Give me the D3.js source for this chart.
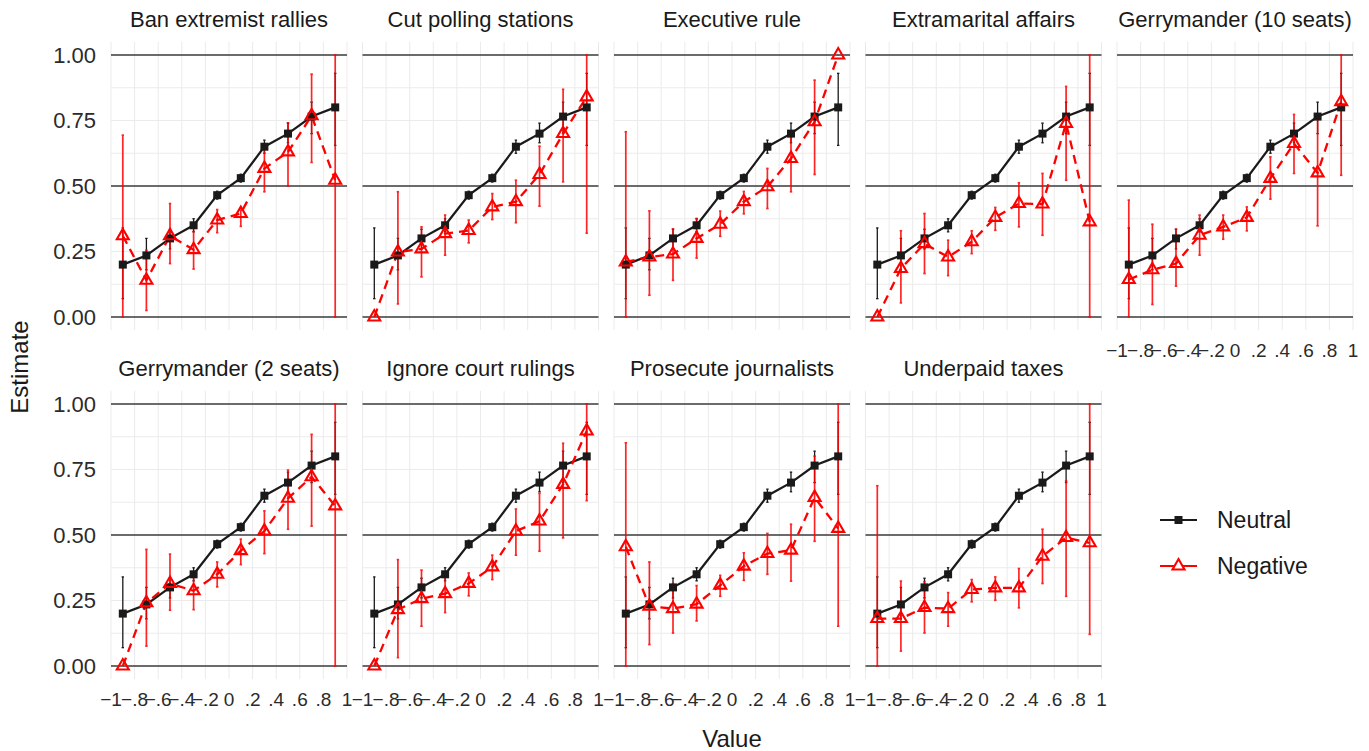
<!DOCTYPE html>
<html>
<head>
<meta charset="utf-8">
<script src="https://cdn.jsdelivr.net/npm/d3@7"></script>
<style>
  html, body { margin: 0; padding: 0; background: #ffffff; }
  svg text { font-family: "Liberation Sans", Arial, Helvetica, sans-serif; }
</style>
</head>
<body>
<svg id="chart" width="1369" height="751"></svg>
<script>
// ---------------- DATA ----------------
const facets = [
  "Ban extremist rallies", "Cut polling stations", "Executive rule",
  "Extramarital affairs", "Gerrymander (10 seats)", "Gerrymander (2 seats)",
  "Ignore court rulings", "Prosecute journalists", "Underpaid taxes"
];
const xValues = [-0.9, -0.7, -0.5, -0.3, -0.1, 0.1, 0.3, 0.5, 0.7, 0.9];
const xTicks = [-1, -0.8, -0.6, -0.4, -0.2, 0, 0.2, 0.4, 0.6, 0.8, 1];
const xTickLabels = ["\u22121", "\u2212.8", "\u2212.6", "\u2212.4", "\u2212.2", "0", ".2", ".4", ".6", ".8", "1"];
const yTicks = [0, 0.25, 0.5, 0.75, 1];
const yTickLabels = ["0.00", "0.25", "0.50", "0.75", "1.00"];
const yMinor = [0.125, 0.375, 0.625, 0.875];
const yRefLines = [0, 0.5, 1];
const seriesNames = ["Neutral", "Negative"];

// Neutral series (identical in every facet)
const neutralEst = [0.20, 0.235, 0.30, 0.35, 0.465, 0.53, 0.65, 0.70, 0.765, 0.80];
const neutralLo  = [0.07, 0.18, 0.26, 0.325, 0.45, 0.515, 0.625, 0.665, 0.70, 0.655];
const neutralHi  = [0.34, 0.30, 0.335, 0.375, 0.48, 0.545, 0.675, 0.74, 0.82, 0.93];

// Negative series, one row per facet (same order as facets)
const negativeEst = [
  [0.31, 0.14, 0.31, 0.257, 0.37, 0.395, 0.567, 0.63, 0.768, 0.522],
  [0.00, 0.248, 0.26, 0.318, 0.33, 0.42, 0.44, 0.544, 0.70, 0.84],
  [0.21, 0.229, 0.24, 0.30, 0.354, 0.44, 0.497, 0.605, 0.745, 1.00],
  [0.00, 0.185, 0.28, 0.229, 0.287, 0.38, 0.433, 0.431, 0.739, 0.363],
  [0.143, 0.18, 0.204, 0.312, 0.344, 0.38, 0.529, 0.662, 0.55, 0.822],
  [0.00, 0.241, 0.315, 0.287, 0.35, 0.44, 0.515, 0.64, 0.722, 0.611],
  [0.00, 0.215, 0.257, 0.276, 0.315, 0.378, 0.515, 0.553, 0.693, 0.897],
  [0.455, 0.228, 0.219, 0.236, 0.308, 0.381, 0.429, 0.442, 0.643, 0.525],
  [0.181, 0.181, 0.223, 0.219, 0.292, 0.298, 0.298, 0.419, 0.49, 0.47]
];
const negativeLo = [
  [0.00, 0.025, 0.204, 0.183, 0.322, 0.346, 0.478, 0.50, 0.59, 0.00],
  [0.00, 0.05, 0.153, 0.236, 0.283, 0.372, 0.36, 0.423, 0.516, 0.32],
  [0.00, 0.083, 0.14, 0.225, 0.308, 0.394, 0.414, 0.478, 0.544, 1.00],
  [0.00, 0.054, 0.166, 0.158, 0.242, 0.331, 0.344, 0.312, 0.522, 0.00],
  [0.00, 0.048, 0.118, 0.236, 0.297, 0.329, 0.45, 0.548, 0.348, 0.541],
  [0.00, 0.076, 0.213, 0.215, 0.302, 0.387, 0.429, 0.522, 0.534, 0.00],
  [0.00, 0.032, 0.152, 0.204, 0.268, 0.33, 0.423, 0.438, 0.489, 0.631],
  [0.00, 0.082, 0.126, 0.172, 0.266, 0.327, 0.35, 0.324, 0.476, 0.152],
  [0.00, 0.057, 0.126, 0.152, 0.245, 0.251, 0.222, 0.315, 0.266, 0.121]
];
const negativeHi = [
  [0.694, 0.255, 0.433, 0.327, 0.41, 0.408, 0.65, 0.741, 0.927, 1.00],
  [0.00, 0.478, 0.344, 0.389, 0.37, 0.471, 0.522, 0.652, 0.869, 1.00],
  [0.707, 0.405, 0.336, 0.376, 0.404, 0.479, 0.567, 0.685, 0.904, 1.00],
  [0.00, 0.329, 0.395, 0.293, 0.329, 0.418, 0.512, 0.548, 0.88, 1.00],
  [0.446, 0.354, 0.335, 0.389, 0.389, 0.42, 0.611, 0.773, 0.771, 1.00],
  [0.00, 0.445, 0.427, 0.35, 0.397, 0.484, 0.592, 0.748, 0.884, 1.00],
  [0.00, 0.406, 0.366, 0.35, 0.355, 0.423, 0.599, 0.659, 0.85, 1.00],
  [0.852, 0.397, 0.315, 0.307, 0.346, 0.432, 0.506, 0.541, 0.801, 1.00],
  [0.688, 0.324, 0.322, 0.28, 0.33, 0.34, 0.372, 0.522, 0.706, 1.00]
];

// ---------------- LAYOUT ----------------
const svg = d3.select("#chart");
const panelW = 236;
const panelLefts = [111, 362.5, 614, 865.5, 1117];
const rowTops = [41.9, 390.9];
const panelH = 288.2;
const neutralColor = "#1a1a1a";
const negColor = "#ff0000";
const fontMain = 22;
const triSize = 62;

facets.forEach((name, fi) => {
  const row = Math.floor(fi / 5), col = fi % 5;
  const left = panelLefts[col], top = rowTops[row];
  const x = d3.scaleLinear().domain([-1, 1]).range([left, left + panelW]);
  const y = d3.scaleLinear().domain([-0.05, 1.05]).range([top + panelH, top]);
  const g = svg.append("g");

  // grid
  g.selectAll(".vg").data(xTicks).join("line")
    .attr("x1", d => x(d)).attr("x2", d => x(d))
    .attr("y1", top).attr("y2", top + panelH)
    .attr("stroke", "#ebebeb").attr("stroke-width", 1);
  g.selectAll(".hg").data(yTicks.concat(yMinor)).join("line")
    .attr("x1", left).attr("x2", left + panelW)
    .attr("y1", d => y(d)).attr("y2", d => y(d))
    .attr("stroke", "#ebebeb").attr("stroke-width", 1);
  g.selectAll(".ref").data(yRefLines).join("line")
    .attr("x1", left).attr("x2", left + panelW)
    .attr("y1", d => y(d)).attr("y2", d => y(d))
    .attr("stroke", "#3d3d3d").attr("stroke-width", 1.5);

  // strip title
  g.append("text").attr("x", left + panelW / 2).attr("y", top - 15)
    .attr("text-anchor", "middle").attr("font-size", fontMain).attr("fill", "#1a1a1a")
    .text(name);

  // y axis labels on first column
  if (col === 0) {
    g.selectAll(".yl").data(yTicks).join("text")
      .attr("x", 96).attr("y", d => y(d)).attr("dy", "0.36em")
      .attr("text-anchor", "end").attr("font-size", 22).attr("fill", "#2b2b2b")
      .text((d, i) => yTickLabels[i]);
  }
  // x axis labels on row 2 and on the last panel of row 1
  if (row === 1 || col === 4) {
    g.selectAll(".xl").data(xTicks).join("text")
      .attr("x", d => x(d)).attr("y", top + panelH + 27)
      .attr("text-anchor", "middle").attr("font-size", 19).attr("fill", "#2b2b2b")
      .text((d, i) => xTickLabels[i]);
  }

  const neu = xValues.map((xv, i) => ({ x: xv, e: neutralEst[i], lo: neutralLo[i], hi: neutralHi[i] }));
  const neg = xValues.map((xv, i) => ({ x: xv, e: negativeEst[fi][i], lo: negativeLo[fi][i], hi: negativeHi[fi][i] }));

  // error bars
  const drawErr = (data, color, width, op) => {
    const eg = g.append("g").attr("stroke", color).attr("stroke-width", width).attr("opacity", op);
    data.filter(d => d.hi > d.lo).forEach(d => {
      eg.append("line").attr("x1", x(d.x)).attr("x2", x(d.x)).attr("y1", y(d.lo)).attr("y2", y(d.hi));
      eg.append("line").attr("x1", x(d.x) - 1.2).attr("x2", x(d.x) + 1.2).attr("y1", y(d.lo)).attr("y2", y(d.lo));
      eg.append("line").attr("x1", x(d.x) - 1.2).attr("x2", x(d.x) + 1.2).attr("y1", y(d.hi)).attr("y2", y(d.hi));
    });
  };
  drawErr(neu, neutralColor, 1.3, 1);
  drawErr(neg, negColor, 1.7, 0.85);

  const line = d3.line().x(d => x(d.x)).y(d => y(d.e));
  g.append("path").datum(neu).attr("d", line).attr("fill", "none")
    .attr("stroke", neutralColor).attr("stroke-width", 2.2);
  g.append("path").datum(neg).attr("d", line).attr("fill", "none")
    .attr("stroke", negColor).attr("stroke-width", 2.3).attr("stroke-dasharray", "9,6");

  // points
  g.selectAll(".sq").data(neu).join("rect")
    .attr("x", d => x(d.x) - 4).attr("y", d => y(d.e) - 4)
    .attr("width", 8).attr("height", 8).attr("fill", neutralColor);
  const tri = d3.symbol().type(d3.symbolTriangle).size(triSize);
  g.selectAll(".tr").data(neg).join("path")
    .attr("d", tri)
    .attr("transform", d => `translate(${x(d.x)},${y(d.e)})`)
    .attr("fill", "none").attr("stroke", negColor).attr("stroke-width", 2.1);
});

// axis titles
svg.append("text").attr("x", 732).attr("y", 747).attr("text-anchor", "middle")
  .attr("font-size", 24).attr("fill", "#1a1a1a").text("Value");
svg.append("text").attr("transform", "translate(28,367) rotate(-90)")
  .attr("text-anchor", "middle").attr("font-size", 24).attr("fill", "#1a1a1a").text("Estimate");

// legend
const legY = [520, 566];
const lg = svg.append("g");
seriesNames.forEach((s, i) => {
  const c = i === 0 ? neutralColor : negColor;
  lg.append("line").attr("x1", 1160).attr("x2", 1197).attr("y1", legY[i]).attr("y2", legY[i])
    .attr("stroke", c).attr("stroke-width", 2.2);
  if (i === 0) {
    lg.append("rect").attr("x", 1178.5 - 4).attr("y", legY[i] - 4).attr("width", 8).attr("height", 8).attr("fill", c);
  } else {
    lg.append("path").attr("d", d3.symbol().type(d3.symbolTriangle).size(triSize))
      .attr("transform", `translate(1178.5,${legY[i]})`)
      .attr("fill", "#ffffff").attr("stroke", c).attr("stroke-width", 2.1);
  }
  lg.append("text").attr("x", 1217).attr("y", legY[i]).attr("dy", "0.36em")
    .attr("font-size", 23).attr("fill", "#1a1a1a").text(s);
});
</script>
</body>
</html>
